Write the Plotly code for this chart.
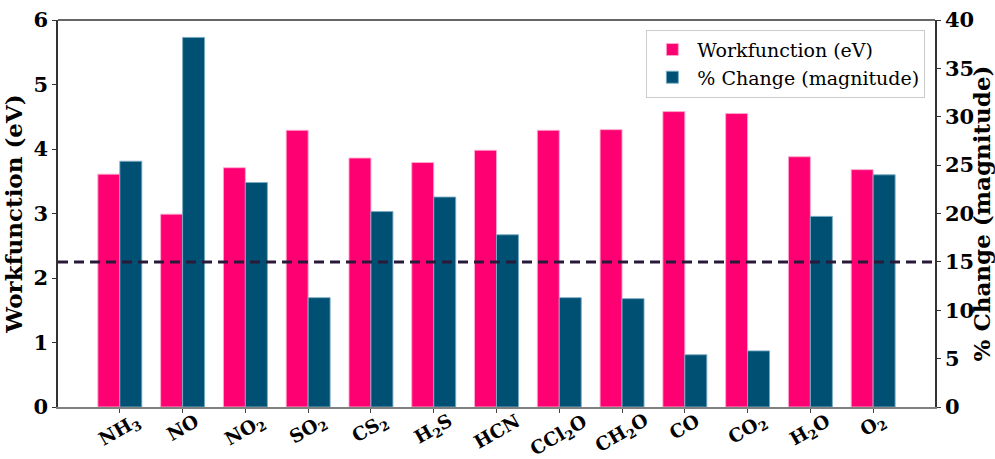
import plotly.graph_objects as go

# Adsorbed molecules
molecules = ["NH<sub>3</sub>", "NO", "NO<sub>2</sub>", "SO<sub>2</sub>", "CS<sub>2</sub>",
             "H<sub>2</sub>S", "HCN", "CCl<sub>2</sub>O", "CH<sub>2</sub>O", "CO",
             "CO<sub>2</sub>", "H<sub>2</sub>O", "O<sub>2</sub>"]

# Workfunction after adsorption (eV)
workfunction = [3.61, 2.99, 3.71, 4.29, 3.86, 3.79, 3.98, 4.29, 4.30, 4.58, 4.55, 3.88, 3.68]

# Magnitude of workfunction change (%)
pct_change = [25.4, 38.2, 23.2, 11.3, 20.2, 21.7, 17.8, 11.3, 11.2, 5.4, 5.8, 19.7, 24.0]

# Threshold on the % change axis
threshold = 15

left_ticks = [0, 1, 2, 3, 4, 5, 6]
right_ticks = [0, 5, 10, 15, 20, 25, 30, 35, 40]

PINK = "#FF0072"
BLUE = "#005073"
FONT = "DejaVu Serif"

idx = list(range(len(molecules)))

fig = go.Figure()
fig.add_trace(go.Bar(
    x=idx, y=workfunction, name="Workfunction (eV)",
    width=0.35, offset=-0.35,
    marker=dict(color=PINK, line=dict(color="rgba(255,170,205,0.9)", width=1)),
    yaxis="y",
))
fig.add_trace(go.Bar(
    x=idx, y=pct_change, name="% Change (magnitude)",
    width=0.35, offset=0.0,
    marker=dict(color=BLUE, line=dict(color="rgba(120,170,195,0.9)", width=1)),
    yaxis="y2",
))

# Dashed threshold line across the full width
fig.add_shape(type="line", xref="paper", x0=0, x1=1, yref="y2", y0=threshold, y1=threshold,
              line=dict(color="#2a1a3a", width=3, dash="10px,6px"), layer="above")

# Rotated category labels, centred under each tick
for i, m in zip(idx, molecules):
    fig.add_annotation(
        x=i, xref="x", y=0, yref="paper", yshift=0,
        xanchor="center", yanchor="top",
        text="<b>%s</b>" % m, textangle=-30, showarrow=False,
        font=dict(family=FONT, size=18.5, color="black"),
    )

fig.update_layout(
    width=995, height=459,
    margin=dict(l=58, r=60, t=20, b=52),
    plot_bgcolor="white", paper_bgcolor="white",
    font=dict(family=FONT, color="black"),
    barmode="overlay",
    showlegend=True,
    legend=dict(
        x=0.989, y=0.975, xanchor="right", yanchor="top",
        bgcolor="rgba(255,255,255,0.9)", bordercolor="#cccccc", borderwidth=1,
        font=dict(family=FONT, size=19, color="black"),
        itemwidth=40, tracegroupgap=2,
    ),
    xaxis=dict(
        range=[-0.985, 12.985], automargin=False,
        tickmode="array", tickvals=idx, showticklabels=False,
        ticks="outside", ticklen=4, tickcolor="#444",
        showline=True, linecolor="#808080", linewidth=1.5,
        showgrid=False, zeroline=False,
    ),
    yaxis=dict(
        range=[0, 6], automargin=False,
        tickmode="array", tickvals=left_ticks,
        ticktext=["<b>%d</b>" % t for t in left_ticks],
        tickfont=dict(family=FONT, size=21, color="black"),
        ticks="outside", ticklen=4, tickcolor="#333",
        showline=True, linecolor="#333", linewidth=1.5, mirror=False,
        showgrid=False, zeroline=False,
        title=dict(text="<b>Workfunction (eV)</b>", font=dict(family=FONT, size=23, color="black"),
                   standoff=6),
    ),
    yaxis2=dict(
        range=[0, 40], overlaying="y", side="right", anchor="x", automargin=False,
        tickmode="array", tickvals=right_ticks,
        ticktext=["<b>%d</b>" % t for t in right_ticks],
        tickfont=dict(family=FONT, size=21, color="black"),
        ticks="outside", ticklen=4, tickcolor="#333",
        showline=True, linecolor="#333", linewidth=1.5,
        showgrid=False, zeroline=False,
        title=dict(text="<b>% Change (magnitude)</b>", font=dict(family=FONT, size=23, color="black"),
                   standoff=6),
    ),
)

# Top border of the plotting area
fig.add_shape(type="line", xref="paper", yref="paper", x0=0, x1=1, y0=1, y1=1,
              line=dict(color="#333", width=1.5))

fig.write_html("out.html")
